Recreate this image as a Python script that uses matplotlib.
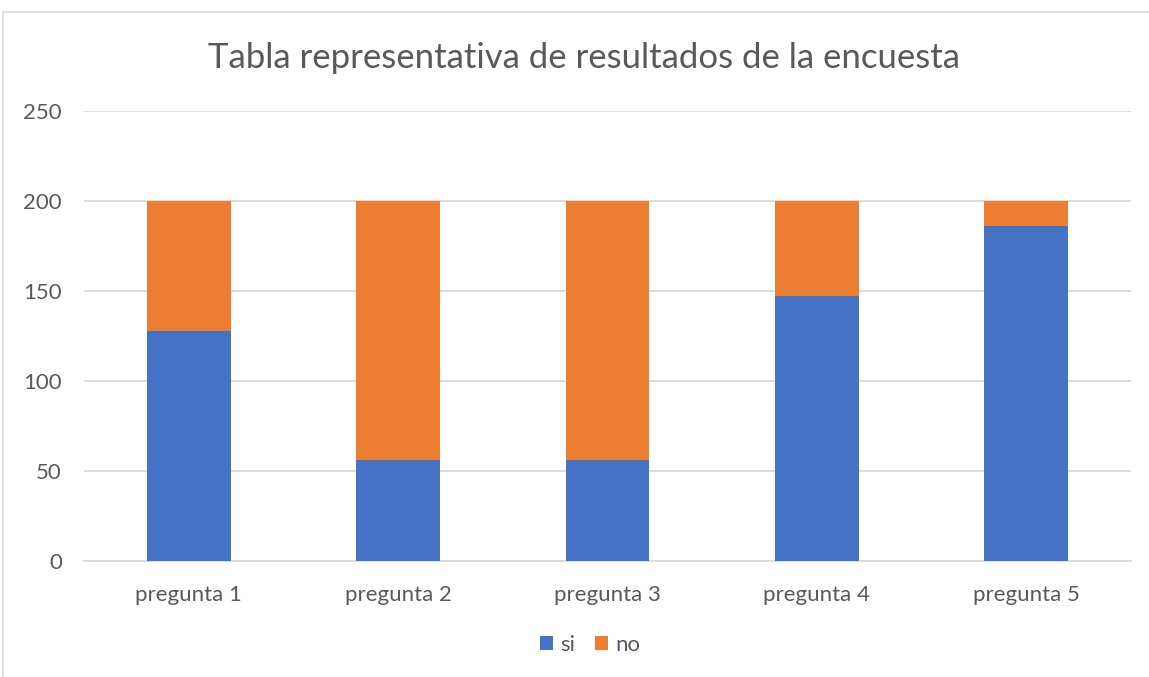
import matplotlib.pyplot as plt
from matplotlib.patches import Rectangle
import numpy as np

categories = ['pregunta 1', 'pregunta 2', 'pregunta 3', 'pregunta 4', 'pregunta 5']
si = [128, 56, 56, 147, 186]
no = [72, 144, 144, 53, 14]
yticks = [0, 50, 100, 150, 200, 250]

plt.rcParams['font.family'] = ['Lato', 'DejaVu Sans']
text_color = '#595959'

W, H = 1149, 677
fig = plt.figure(figsize=(W / 100, H / 100), dpi=100)
fig.patches.append(Rectangle((3 / W, -0.1), 1.2, 1.1 - 12 / H, transform=fig.transFigure,
                             fill=False, edgecolor='#d9d9d9', linewidth=1.2))

ax = fig.add_axes([84 / W, 1 - 561 / H, (1131 - 84) / W, (561 - 111) / H])
x = np.arange(len(categories))
ax.bar(x, si, width=0.4, color='#4472c4', label='si', zorder=3)
ax.bar(x, no, width=0.4, bottom=si, color='#ed7d31', label='no', zorder=3)

ax.set_xlim(-0.5, len(categories) - 0.5)
ax.set_ylim(0, 250)
ax.set_yticks(yticks)
ax.set_xticks(x)
ax.set_xticklabels(categories)
ax.yaxis.grid(True, color='#d9d9d9', linewidth=1.3, zorder=0)
for s in ['top', 'right', 'left']:
    ax.spines[s].set_visible(False)
ax.spines['bottom'].set_color('#d9d9d9')
ax.spines['bottom'].set_linewidth(1.3)
ax.tick_params(axis='both', length=0, labelsize=16, colors=text_color)
ax.tick_params(axis='x', pad=17)
ax.tick_params(axis='y', pad=16)

fig.text(584 / W, 1 - 58 / H, 'Tabla representativa de resultados de la encuesta',
         ha='center', va='center', fontsize=25, color=text_color)

ax.legend(loc='center', bbox_to_anchor=(590 / W, 1 - 645 / H), bbox_transform=fig.transFigure,
          ncol=2, frameon=False, fontsize=16, labelcolor=text_color,
          handlelength=0.6, handleheight=0.6, handletextpad=0.3, columnspacing=0.9)

fig.savefig('out.png', dpi=100)
